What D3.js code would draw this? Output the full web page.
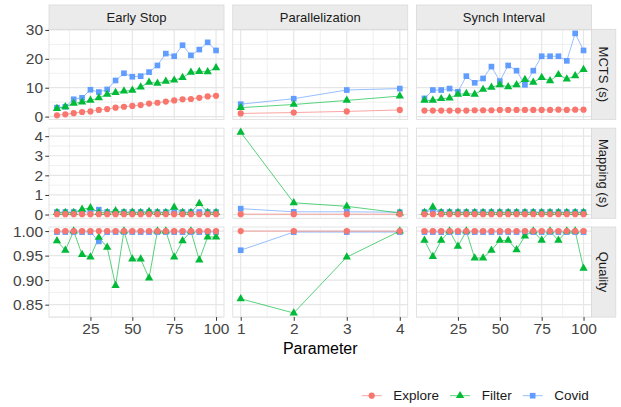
<!DOCTYPE html>
<html><head><meta charset="utf-8">
<script src="https://cdn.jsdelivr.net/npm/d3@7"></script>
<style>body{margin:0;background:#fff}svg{display:block;font-family:"Liberation Sans",Arial,Helvetica,sans-serif}</style>
</head><body><svg id="c" width="621" height="407"></svg>
<script>
// ---------- data ----------
const columnNames = ["Early Stop", "Parallelization", "Synch Interval"];
const rowNames = ["MCTS (s)", "Mapping (s)", "Quality"];
const seriesNames = ["Explore", "Filter", "Covid"];
const seriesColors = ["#F8766D", "#00BA38", "#619CFF"];

const stepX = [5,10,15,20,25,30,35,40,45,50,55,60,65,70,75,80,85,90,95,100];
const parX = [1,2,3,4];

const stepTicks = [25,50,75,100];
const parTicks = [1,2,3,4];
const mctsTicks = [0,10,20,30];
const mapTicks = [0,1,2,3,4];
const qualTicks = [0.85,0.90,0.95,1.00];

// MCTS (s)
const mctsEarlyExplore = [0.45,0.8,1.2,1.6,1.8,2.3,2.6,3.1,3.4,3.7,4.0,4.5,4.8,5.2,5.6,6.0,6.1,6.5,7.0,7.2];
const mctsEarlyFilter  = [2.8,3.4,4.6,5.0,5.6,6.5,7.7,8.3,8.8,9.1,10.2,11.9,11.5,12.2,12.6,13.5,15.3,15.6,15.5,16.9];
const mctsEarlyCovid   = [3.1,3.4,6.0,6.5,9.3,8.5,9.4,12.5,15.0,13.8,14.0,15.4,17.7,21.8,20.9,24.7,21.2,23.2,25.7,22.9];
const mctsParExplore = [1.1,1.4,1.8,2.3];
const mctsParFilter  = [3.1,4.2,5.6,7.1];
const mctsParCovid   = [4.3,6.2,9.2,9.7];
const mctsSynExplore = [2.1,2.1,2.1,2.1,2.1,2.1,2.2,2.2,2.2,2.3,2.3,2.3,2.3,2.3,2.3,2.3,2.4,2.3,2.4,2.4];
const mctsSynFilter  = [5.6,5.6,6.2,6.4,7.7,8.0,7.7,9.4,10.1,11.0,10.3,11.0,12.8,11.9,13.5,12.4,14.5,13.0,14.1,16.3];
const mctsSynCovid   = [6.3,9.2,9.2,9.7,8.6,14.0,11.7,13.2,17.3,12.3,17.7,15.9,11.0,15.9,20.9,20.9,20.9,19.3,28.8,22.9];

// Mapping (s)
const mapEarlyExplore = [0.02,0.02,0.02,0.02,0.02,0.02,0.02,0.02,0.02,0.02,0.02,0.02,0.02,0.02,0.02,0.02,0.02,0.02,0.02,0.02];
const mapEarlyFilter  = [0.1,0.1,0.1,0.27,0.34,0.1,0.1,0.19,0.1,0.12,0.1,0.15,0.1,0.1,0.37,0.1,0.1,0.56,0.1,0.1];
const mapEarlyCovid   = [0.13,0.13,0.13,0.13,0.13,0.25,0.13,0.13,0.13,0.13,0.13,0.13,0.13,0.13,0.13,0.13,0.13,0.13,0.13,0.13];
const mapParExplore = [0.02,0.02,0.02,0.02];
const mapParFilter  = [4.2,0.6,0.42,0.08];
const mapParCovid   = [0.3,0.14,0.14,0.12];
const mapSynExplore = [0.02,0.02,0.02,0.02,0.02,0.02,0.02,0.02,0.02,0.02,0.02,0.02,0.02,0.02,0.02,0.02,0.02,0.02,0.02,0.02];
const mapSynFilter  = [0.1,0.38,0.1,0.1,0.1,0.1,0.1,0.1,0.1,0.1,0.1,0.1,0.1,0.1,0.1,0.1,0.1,0.1,0.1,0.1];
const mapSynCovid   = [0.13,0.2,0.13,0.13,0.13,0.13,0.13,0.13,0.13,0.13,0.13,0.13,0.13,0.13,0.13,0.13,0.13,0.13,0.13,0.13];

// Quality
const qualEarlyExplore = [1,1,1,1,1,1,1,1,1,1,1,1,1,1,1,1,1,1,1,1];
const qualEarlyFilter  = [0.980,0.961,1.0,0.952,0.947,0.987,0.967,0.889,1.0,0.943,0.943,0.904,1.0,1.0,0.947,0.980,1.0,0.941,0.988,0.988];
const qualEarlyCovid   = [0.998,0.998,0.998,0.998,0.998,0.979,0.998,0.998,0.998,0.998,0.998,0.998,0.998,0.998,0.998,0.998,0.998,0.998,0.998,0.998];
const qualParExplore = [1,1,1,1];
const qualParFilter  = [0.862,0.833,0.947,1.0];
const qualParCovid   = [0.961,0.998,0.998,0.998];
const qualSynExplore = [1,1,1,1,1,1,1,1,1,1,1,1,1,1,1,1,1,1,1,1];
const qualSynFilter  = [0.981,0.948,0.981,1.0,0.969,1.0,0.945,0.945,0.961,0.981,0.981,0.962,0.990,1.0,0.981,1.0,0.981,1.0,1.0,0.924];
const qualSynCovid   = [0.998,0.998,0.998,0.998,0.998,0.998,0.998,0.998,0.998,0.998,0.998,0.998,0.998,0.998,0.998,0.998,0.998,0.998,0.998,0.998];

// ---------- assemble ----------
const colXs = [stepX, parX, stepX];
const colTicks = [stepTicks, parTicks, stepTicks];
const rowTicks = [mctsTicks, mapTicks, qualTicks];
const rowFormats = [d3.format("d"), d3.format("d"), d3.format(".2f")];
const cells = [
  [[mctsEarlyExplore, mctsEarlyFilter, mctsEarlyCovid], [mctsParExplore, mctsParFilter, mctsParCovid], [mctsSynExplore, mctsSynFilter, mctsSynCovid]],
  [[mapEarlyExplore, mapEarlyFilter, mapEarlyCovid], [mapParExplore, mapParFilter, mapParCovid], [mapSynExplore, mapSynFilter, mapSynCovid]],
  [[qualEarlyExplore, qualEarlyFilter, qualEarlyCovid], [qualParExplore, qualParFilter, qualParCovid], [qualSynExplore, qualSynFilter, qualSynCovid]]
];

// ---------- layout ----------
const L = 49, T = 29.3, PW = 175, PH = 90.1, G = 8.75;
const STRIP = 24.3;
const colX = i => L + i * (PW + G);
const rowY = j => T + j * (PH + G);
const expand = ([a, b]) => { const d = (b - a) * 0.05; return [a - d, b + d]; };

const xScales = colXs.map((xs, i) => d3.scaleLinear().domain(expand(d3.extent(xs))).range([colX(i), colX(i) + PW]));
const yScales = cells.map((row, j) => {
  const all = row.flat(2);
  return d3.scaleLinear().domain(expand(d3.extent(all))).range([rowY(j) + PH, rowY(j)]);
});
function minorBreaks(ticks, domain) {
  const s = ticks[1] - ticks[0];
  const out = [];
  for (let k = -1; k <= ticks.length; k++) {
    const v = ticks[0] - s / 2 + k * s;
    if (v >= domain[0] && v <= domain[1]) out.push(v);
  }
  return out;
}

const svg = d3.select("#c");
const gridCol = "#E6E6E6";
const drawOrder = [2, 1, 0];
const symTypes = [d3.symbolCircle, d3.symbolTriangle, d3.symbolSquare];
const symSizes = [30, 30, 32];

for (let j = 0; j < 3; j++) {
  for (let i = 0; i < 3; i++) {
    const x = xScales[i], y = yScales[j];
    const g = svg.append("g");
    const x0 = colX(i), y0 = rowY(j);
    g.append("rect").attr("x", x0).attr("y", y0).attr("width", PW).attr("height", PH).attr("fill", "#fff");
    minorBreaks(colTicks[i], x.domain()).forEach(v => g.append("line").attr("x1", x(v)).attr("x2", x(v)).attr("y1", y0).attr("y2", y0 + PH).attr("stroke", gridCol).attr("stroke-width", 0.6));
    minorBreaks(rowTicks[j], y.domain()).forEach(v => g.append("line").attr("x1", x0).attr("x2", x0 + PW).attr("y1", y(v)).attr("y2", y(v)).attr("stroke", gridCol).attr("stroke-width", 0.6));
    colTicks[i].forEach(v => g.append("line").attr("x1", x(v)).attr("x2", x(v)).attr("y1", y0).attr("y2", y0 + PH).attr("stroke", gridCol).attr("stroke-width", 1.2));
    rowTicks[j].forEach(v => g.append("line").attr("x1", x0).attr("x2", x0 + PW).attr("y1", y(v)).attr("y2", y(v)).attr("stroke", gridCol).attr("stroke-width", 1.2));
    g.append("rect").attr("x", x0).attr("y", y0).attr("width", PW).attr("height", PH).attr("fill", "none").attr("stroke", "#DCDCDC").attr("stroke-width", 0.8);

    const xs = colXs[i];
    const line = d3.line().x((d, k) => x(xs[k])).y(d => y(d));
    drawOrder.forEach(s => {
      g.append("path").attr("d", line(cells[j][i][s])).attr("fill", "none")
        .attr("stroke", seriesColors[s]).attr("stroke-width", 1).attr("stroke-opacity", 0.65);
    });
    drawOrder.forEach(s => {
      const sym = d3.symbol().type(symTypes[s]).size(symSizes[s]);
      g.selectAll(null).data(cells[j][i][s]).enter().append("path")
        .attr("d", sym).attr("fill", seriesColors[s])
        .attr("transform", (d, k) => `translate(${x(xs[k])},${y(d)})`);
    });
  }
}

// top strips
columnNames.forEach((name, i) => {
  svg.append("rect").attr("x", colX(i)).attr("y", T - STRIP).attr("width", PW).attr("height", STRIP)
    .attr("fill", "#EBEBEB").attr("stroke", "#D9D9D9").attr("stroke-width", 0.8);
  svg.append("text").attr("x", colX(i) + PW / 2).attr("y", T - STRIP / 2).attr("dy", "0.35em")
    .attr("text-anchor", "middle").attr("font-size", 13).attr("fill", "#1A1A1A").text(name);
});
// right strips
const RX = colX(2) + PW;
rowNames.forEach((name, j) => {
  svg.append("rect").attr("x", RX).attr("y", rowY(j)).attr("width", STRIP).attr("height", PH)
    .attr("fill", "#EBEBEB").attr("stroke", "#D9D9D9").attr("stroke-width", 0.8);
  const cx = RX + STRIP / 2, cy = rowY(j) + PH / 2;
  svg.append("text").attr("transform", `translate(${cx},${cy}) rotate(90)`).attr("dy", "0.35em")
    .attr("text-anchor", "middle").attr("font-size", 13).attr("fill", "#1A1A1A").text(name);
});

// y axes
for (let j = 0; j < 3; j++) {
  const ax = svg.append("g").attr("transform", `translate(${L},0)`)
    .call(d3.axisLeft(yScales[j]).tickValues(rowTicks[j]).tickFormat(rowFormats[j]).tickSize(3.7).tickPadding(2.2));
  ax.select(".domain").remove();
  ax.selectAll(".tick line").attr("stroke", "#333").attr("stroke-width", 1);
  ax.selectAll(".tick text").attr("font-size", 15.5).attr("fill", "#444").attr("font-family", null);
}
// x axes
const bottom = rowY(2) + PH;
for (let i = 0; i < 3; i++) {
  const ax = svg.append("g").attr("transform", `translate(0,${bottom})`)
    .call(d3.axisBottom(xScales[i]).tickValues(colTicks[i]).tickFormat(d3.format("d")).tickSize(3.7).tickPadding(2));
  ax.select(".domain").remove();
  ax.selectAll(".tick line").attr("stroke", "#333").attr("stroke-width", 1);
  ax.selectAll(".tick text").attr("font-size", 15.5).attr("fill", "#444").attr("font-family", null);
}
// axis title
svg.append("text").attr("x", (L + RX) / 2).attr("y", 353.5).attr("text-anchor", "middle")
  .attr("font-size", 16).attr("fill", "#000").text("Parameter");

// legend
const LY = 395.7;
let lx = 361.7;
seriesNames.forEach((name, s) => {
  svg.append("line").attr("x1", lx).attr("x2", lx + 20).attr("y1", LY).attr("y2", LY)
    .attr("stroke", seriesColors[s]).attr("stroke-width", 1).attr("stroke-opacity", 0.65);
  const sym = d3.symbol().type(symTypes[s]).size(symSizes[s]);
  svg.append("path").attr("d", sym).attr("fill", seriesColors[s]).attr("transform", `translate(${lx + 10},${LY})`);
  const t = svg.append("text").attr("x", lx + 31.6).attr("y", LY).attr("dy", "0.35em")
    .attr("font-size", 13.5).attr("fill", "#1A1A1A").text(name);
  lx = lx + 31.6 + t.node().getComputedTextLength() + 11;
});
</script></body></html>
